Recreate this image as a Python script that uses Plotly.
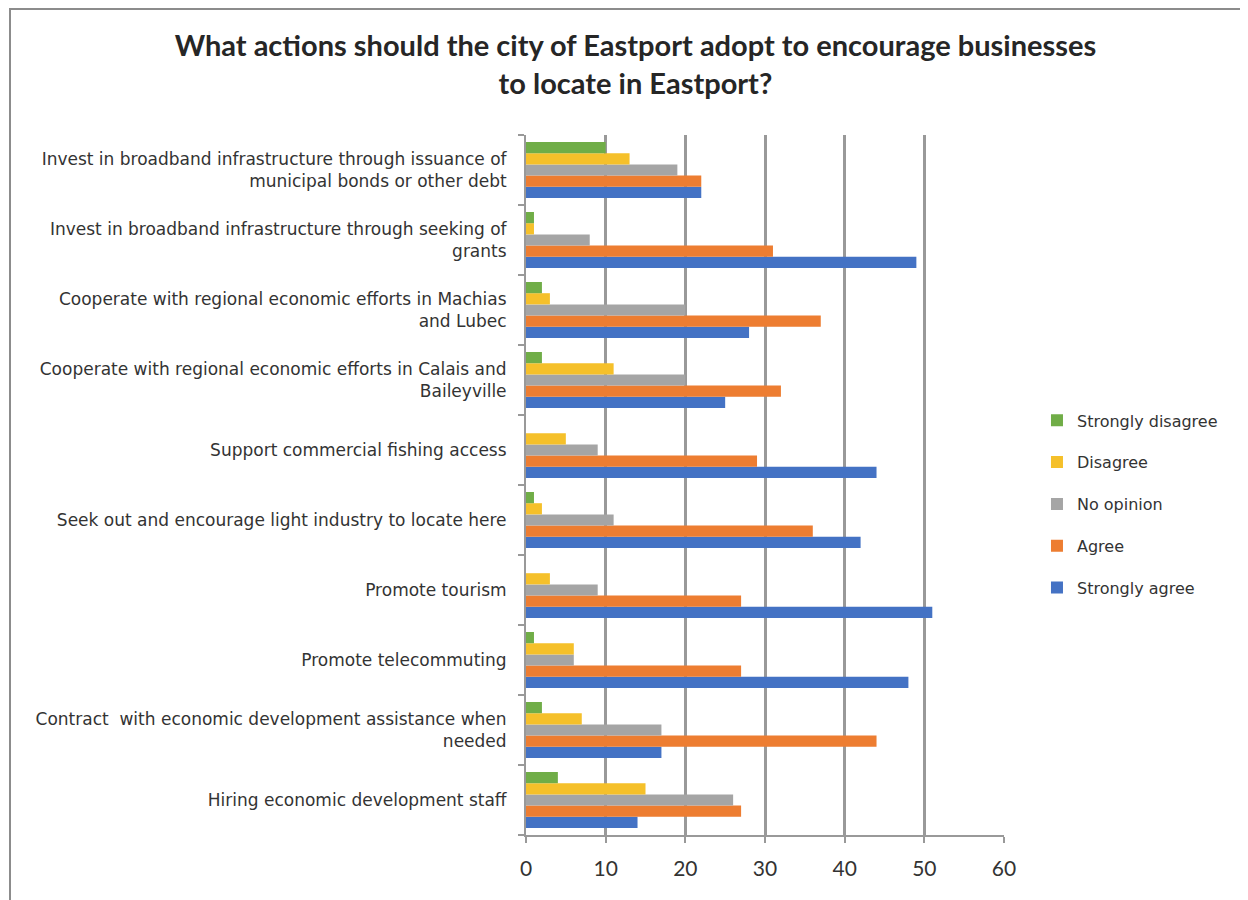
import plotly.graph_objects as go

categories = [
    "Hiring economic development staff",
    "Contract  with economic development assistance when<br>needed",
    "Promote telecommuting",
    "Promote tourism",
    "Seek out and encourage light industry to locate here",
    "Support commercial fishing access",
    "Cooperate with regional economic efforts in Calais and<br>Baileyville",
    "Cooperate with regional economic efforts in Machias<br>and Lubec",
    "Invest in broadband infrastructure through seeking of<br>grants",
    "Invest in broadband infrastructure through issuance of<br>municipal bonds or other debt",
]
strongly_agree    = [14, 17, 48, 51, 42, 44, 25, 28, 49, 22]
agree             = [27, 44, 27, 27, 36, 29, 32, 37, 31, 22]
no_opinion        = [26, 17, 6, 9, 11, 9, 20, 20, 8, 19]
disagree          = [15, 7, 6, 3, 2, 5, 11, 3, 1, 13]
strongly_disagree = [4, 2, 1, 0, 1, 0, 2, 2, 1, 10]

series = [
    ("Strongly agree", strongly_agree, "#4472C4", 5),
    ("Agree", agree, "#ED7D31", 4),
    ("No opinion", no_opinion, "#A5A5A5", 3),
    ("Disagree", disagree, "#F5C02A", 2),
    ("Strongly disagree", strongly_disagree, "#70AD47", 1),
]

fig = go.Figure()
for name, vals, color, rank in series:
    fig.add_trace(go.Bar(
        y=categories, x=vals, name=name, orientation="h",
        marker=dict(color=color, line=dict(width=0)),
        legendgroup=name, legendrank=rank,
    ))

W, H = 1240, 892
L, R, T, B = 518, 244, 127, 65

fig.update_layout(
    width=W, height=H,
    paper_bgcolor="white", plot_bgcolor="white",
    barmode="group", bargap=0.2, bargroupgap=0,
    margin=dict(l=L, r=R, t=T, b=B),
    font=dict(family="'DejaVu Sans', sans-serif", color="#333333"),
    title=dict(
        text="<b>What actions should the city of Eastport adopt to encourage businesses<br>to locate in Eastport?</b>",
        x=0.506, xanchor="center", y=1 - 48 / H, yanchor="middle",
        font=dict(size=29, color="#262626", family="Lato, 'Open Sans', sans-serif"),
    ),
    legend=dict(
        traceorder="grouped",
        x=1.069, xanchor="left", y=0.473, yanchor="middle",
        font=dict(size=16, color="#333333", family="'DejaVu Sans', sans-serif"),
        tracegroupgap=18,
    ),
    showlegend=True,
)

fig.update_xaxes(
    range=[0, 60], dtick=10, showgrid=True, gridcolor="#999999", gridwidth=2.5,
    showline=True, linecolor="#999999", linewidth=2,
    ticks="outside", tickcolor="#999999", ticklen=6, tickwidth=2,
    ticklabelstandoff=8,
    tickfont=dict(size=21, color="#333333", family="Lato, sans-serif"), zeroline=False,
)
fig.update_yaxes(
    showline=True, linecolor="#999999", linewidth=2,
    ticks="outside", tickson="boundaries", tickcolor="#999999", ticklen=6, tickwidth=2,
    ticklabelstandoff=14,
    tickfont=dict(size=17, color="#333333", family="'DejaVu Sans', sans-serif"), showgrid=False,
)

fig.add_shape(
    type="rect", xref="paper", yref="paper",
    x0=(2 - L) / 478, x1=1.7, y0=-0.3, y1=(H - B - 1) / 700,
    line=dict(color="#8c8c8c", width=2), fillcolor="rgba(0,0,0,0)", layer="below",
)

fig.write_html("out.html")
